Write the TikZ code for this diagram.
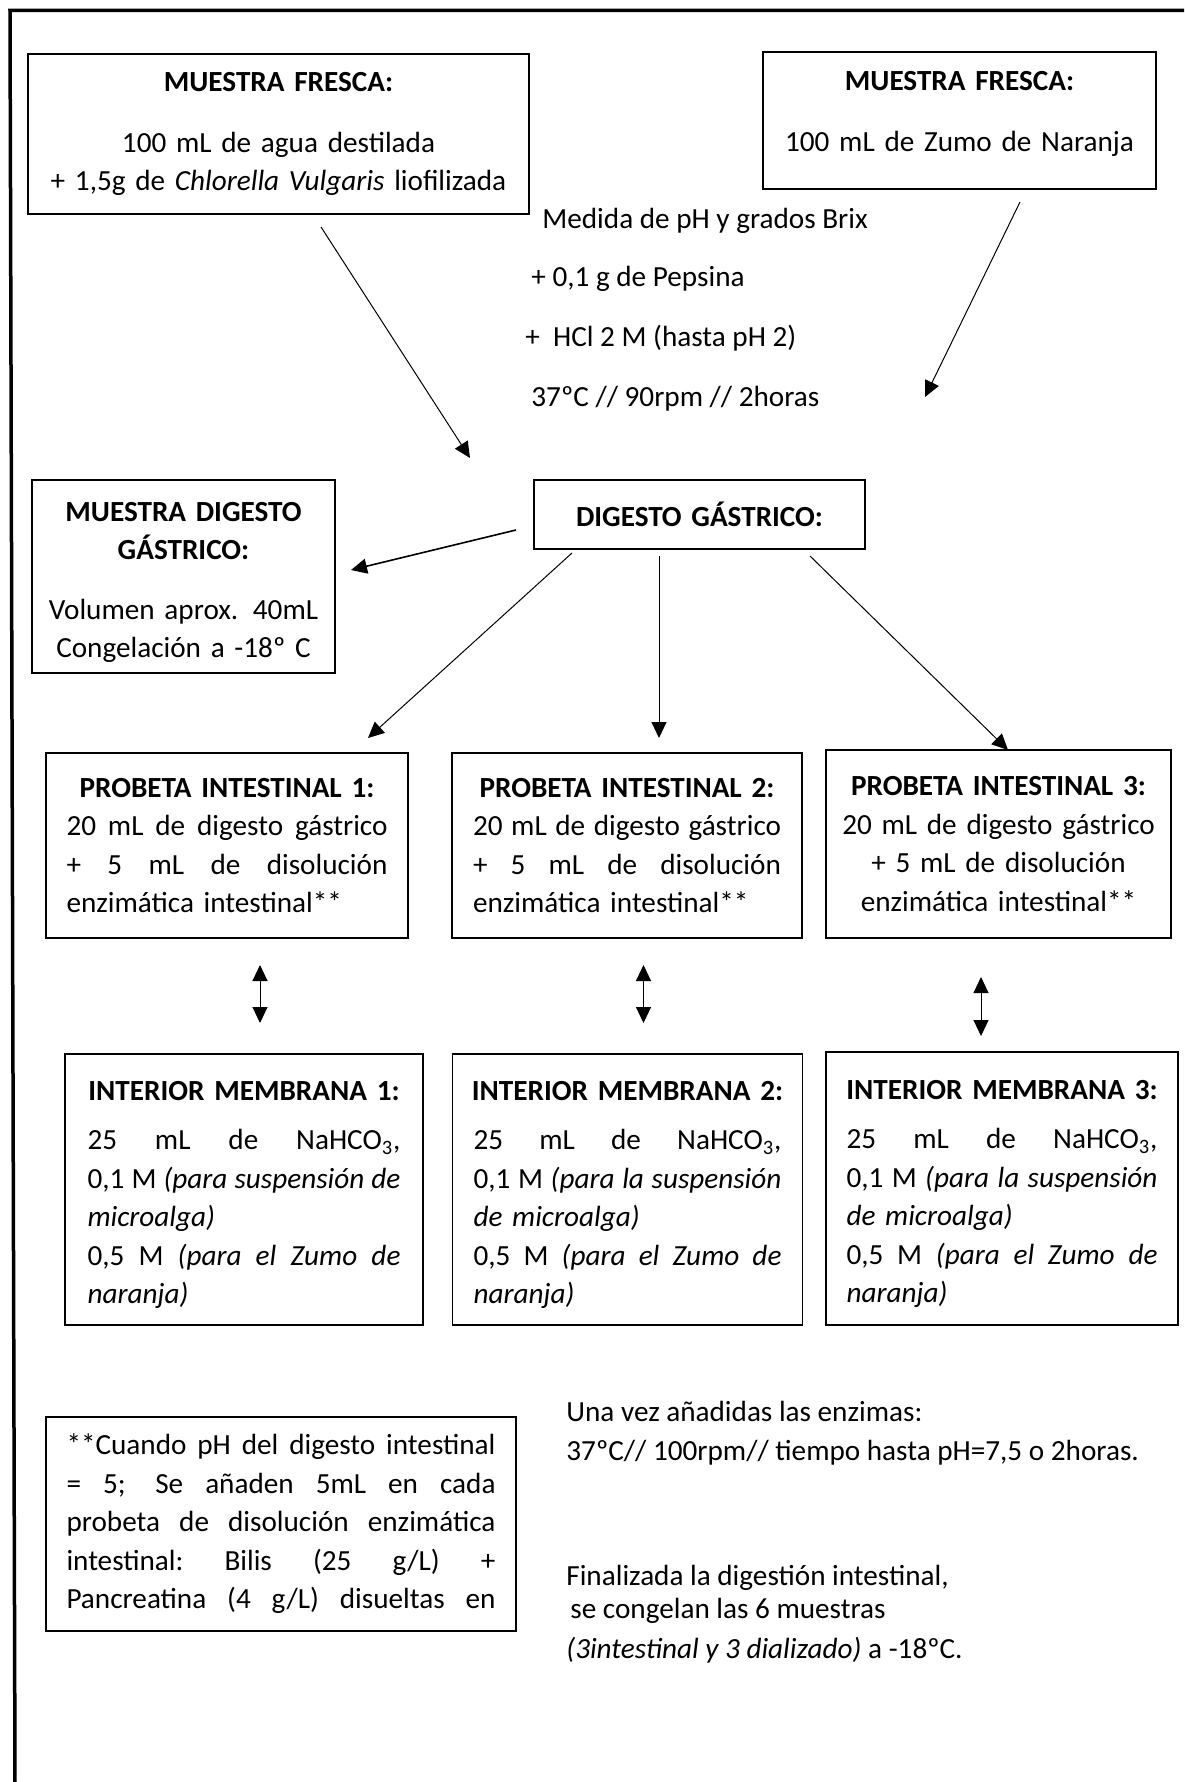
\documentclass[tikz,border=0pt]{standalone}
\usepackage{fontspec}
\setmainfont{Carlito}
\usepackage{tikz}
\usetikzlibrary{arrows.meta,positioning}
% justified / left-flush lines inside the boxes
\newcommand\jline[1]{\makebox[\hsize][s]{\spaceskip=0.23em plus 1fil\xspaceskip=\spaceskip\relax #1}}
\newcommand\lline[1]{\makebox[\hsize][l]{#1}}
\newcommand\tline[1]{\makebox[\hsize]{\textbf{#1}}}
\newcommand\dstrut[1]{\rule[-#1]{0pt}{#1}}

\begin{document}
\begin{tikzpicture}[x=0.5pt,y=-0.5pt,font=\fontsize{14.6}{19.25}\selectfont,
    box/.style={draw,line width=0.8pt,inner sep=0pt,align=center},
    arr/.style={line width=0.5pt,-{Triangle[length=8pt,width=7.5pt]}},
    darr/.style={line width=0.5pt,{Triangle[length=8pt,width=7.5pt]}-{Triangle[length=8pt,width=7.5pt]}},
    txt/.style={anchor=base west,inner sep=0pt}]
  \useasboundingbox (0,0) rectangle (1184,1782);
  \draw[line width=1.75pt] (1184,10.5) -- (10,10.5) -- (15,1782);

  % fresh samples
  \node[box,minimum width=250.5pt,minimum height=80pt,text width=240pt] (mf1) at (278.5,134)
    {\tline{MUESTRA FRESCA:}\\[11pt]100 mL de agua destilada\\+ 1,5g de \textit{Chlorella Vulgaris} liofilizada};
  \node[box,minimum width=196.5pt,minimum height=68.5pt,text width=190pt] (mf2) at (959.5,120.5)
    {\tline{MUESTRA FRESCA:}\\[11pt]100 mL de Zumo de Naranja\dstrut{9pt}};

  \node[txt] (brix) at (542,228) {Medida de pH y grados Brix};
  \node[txt] (peps) at (531,286) {+ 0,1 g de Pepsina};
  \node[txt] (hcl) at (525,346) {+\ \ HCl 2 M (hasta pH 2)};
  \node[txt] (cond1) at (531,406) {37ºC // 90rpm // 2horas};

  % gastric digest
  \node[box,minimum width=165.5pt,minimum height=34.5pt,text width=160pt] (dg) at (699.5,514.5)
    {\tline{DIGESTO GÁSTRICO:}};
  \node[box,minimum width=151.5pt,minimum height=96.5pt,text width=145pt] (mdg) at (183.5,576.5)
    {\rule{0pt}{15.5pt}\tline{MUESTRA DIGESTO}\\\tline{GÁSTRICO:}\\[10.5pt]Volumen aprox. 40mL\\Congelación a -18º C};

  % intestinal probes
  \node[box,minimum width=181pt,minimum height=92.5pt,text width=160.5pt] (p1) at (227,845.5)
    {\tline{PROBETA INTESTINAL 1:}\\\jline{20 mL de digesto gástrico}\\\jline{+ 5 mL de disolución}\\\lline{enzimática intestinal**}};
  \node[box,minimum width=175pt,minimum height=92.5pt,text width=154pt] (p2) at (627,845.5)
    {\tline{PROBETA INTESTINAL 2:}\\\jline{20 mL de digesto gástrico}\\\jline{+ 5 mL de disolución}\\\lline{enzimática intestinal**}};
  \node[box,minimum width=172.5pt,minimum height=94pt,text width=165pt] (p3) at (998.5,844)
    {\tline{PROBETA INTESTINAL 3:}\\20 mL de digesto gástrico\\+ 5 mL de disolución\\enzimática intestinal**};

  % membranes
  \node[box,minimum width=179pt,minimum height=135.5pt,text width=156.5pt] (im1) at (244,1189.5)
    {\rule{0pt}{15pt}\tline{INTERIOR MEMBRANA 1:}\\[5.5pt]\jline{25 mL de NaHCO\textsubscript{3},}\\\jline{0,1 M \textit{(para suspensión de}}\\\lline{\textit{microalga)}}\\\jline{0,5 M \textit{(para el Zumo de}}\\\lline{\textit{naranja)}}};
  \node[box,minimum width=175pt,minimum height=135.5pt,text width=154pt] (im2) at (627.5,1189.5)
    {\rule{0pt}{15pt}\tline{INTERIOR MEMBRANA 2:}\\[5.5pt]\jline{25 mL de NaHCO\textsubscript{3},}\\\jline{0,1 M \textit{(para la suspensión}}\\\lline{\textit{de microalga)}}\\\jline{0,5 M \textit{(para el Zumo de}}\\\lline{\textit{naranja)}}};
  \node[box,minimum width=176pt,minimum height=136.5pt,text width=155.5pt] (im3) at (1002,1188.5)
    {\rule{0pt}{15pt}\tline{INTERIOR MEMBRANA 3:}\\[5.5pt]\jline{25 mL de NaHCO\textsubscript{3},}\\\jline{0,1 M \textit{(para la suspensión}}\\\lline{\textit{de microalga)}}\\\jline{0,5 M \textit{(para el Zumo de}}\\\lline{\textit{naranja)}}};

  % footnote and closing notes
  \node[box,minimum width=235pt,minimum height=107pt,text width=214.5pt] (fn) at (281,1524)
    {\jline{**Cuando pH del digesto intestinal}\\\jline{= 5; Se añaden 5mL en cada}\\\jline{probeta de disolución enzimática}\\\jline{intestinal: Bilis (25 g/L) +}\\\jline{Pancreatina (4 g/L) disueltas en}};
  \node[txt] (enz) at (566,1421) {Una vez añadidas las enzimas:};
  \node[txt] (cond2) at (566,1460) {37ºC// 100rpm// tiempo hasta pH=7,5 o 2horas.};
  \node[txt] (fin1) at (566,1585) {Finalizada la digestión intestinal,};
  \node[txt] (fin2) at (570,1618) {se congelan las 6 muestras};
  \node[txt] (fin3) at (566,1658) {\textit{(3intestinal y 3 dializado)} a -18ºC.};

  % arrows
  \coordinate (a1s) at (321,227);  \coordinate (a1e) at (470,458);
  \coordinate (a2s) at (1020,202); \coordinate (a2e) at (925,397);
  \coordinate (a3s) at (516,530);  \coordinate (a3e) at (351,570);
  \coordinate (a4s) at (572,553);  \coordinate (a4e) at (368,738);
  \coordinate (a5s) at (659,556);  \coordinate (a5e) at (659,738);
  \coordinate (a6s) at (810,556);  \coordinate (a6e) at (1008,750);
  \draw[arr] (a1s) -- (a1e);
  \draw[arr] (a2s) -- (a2e);
  \draw[arr,line width=0.8pt] (a3s) -- (a3e);
  \draw[arr] (a4s) -- (a4e);
  \draw[arr] (a5s) -- (a5e);
  \draw[arr] (a6s) -- (a6e);

  \coordinate (d1s) at (260,965);   \coordinate (d1e) at (260,1023);
  \coordinate (d2s) at (643.5,965); \coordinate (d2e) at (643.5,1023);
  \coordinate (d3s) at (981,977);   \coordinate (d3e) at (981,1036);
  \draw[darr] (d1s) -- (d1e);
  \draw[darr] (d2s) -- (d2e);
  \draw[darr] (d3s) -- (d3e);
\end{tikzpicture}
\end{document}
